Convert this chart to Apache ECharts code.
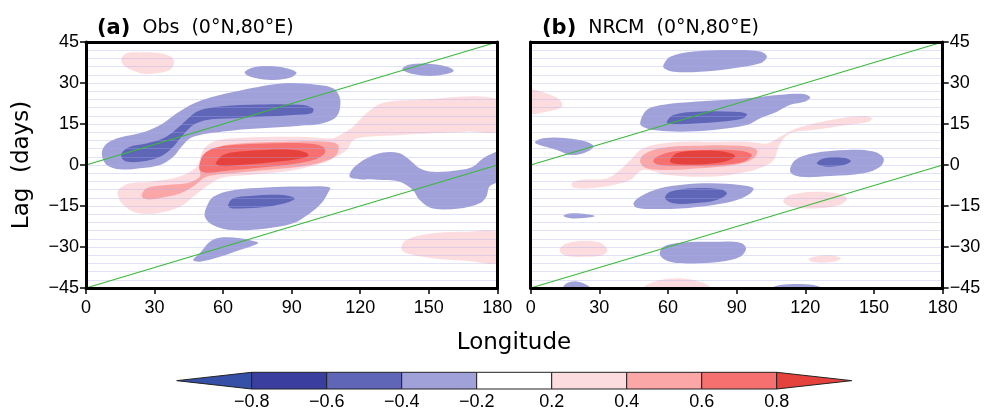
<!DOCTYPE html>
<html><head><meta charset="utf-8">
<script src="https://cdn.jsdelivr.net/npm/echarts@6/dist/echarts.min.js"></script>
<style>html,body{margin:0;padding:0;background:#fff}#c{width:989px;height:411px}</style>
</head><body><div id="c"></div>
<script>
// ---------------- data ----------------
const lonRange = [0, 180];
const lagRange = [-45, 45];
const cbLabels = ['−0.8','−0.6','−0.4','−0.2','0.2','0.4','0.6','0.8'];
const cbColors = ['#3550a6','#3a3f9f','#5f66b8','#a1a1da','#ffffff','#fddcdf','#fba7a7','#f6706f','#e6423d'];
const levelColors = {'-2':'#5f66b8','-1':'#a1a1da','1':'#fddcdf','2':'#fba7a7','3':'#f6706f','4':'#e6423d'};
const phaseLineUpper = [[0,0],[180,45]];
const phaseLineLower = [[0,-45],[180,0]];

// Panel (a) Obs : contour regions [lon, lag]
const obsNeg1Upper = [[6.9,4.3],[9.1,7.9],[14.9,10.1],[25.1,12.0],[33.8,15.3],[39.7,18.9],[45.5,21.9],[52.0,24.1],[64.4,26.7],[86.3,29.9],[100.9,29.4],[108.1,28.1],[111.0,24.9],[111.0,20.1],[108.9,17.1],[102.3,15.0],[93.6,14.4],[78.7,13.5],[64.4,12.6],[46.9,10.3],[41.8,6.7],[38.2,3.0],[32.4,0],[23.6,-1.2],[14.9,-1.6],[9.1,0.0]];
const obsNeg2Upper = [[15.6,4.3],[19.2,6.7],[26.5,7.9],[33.8,9.8],[38.2,12.2],[44.0,16.5],[48.4,19.5],[55.7,21.1],[71.7,22.0],[93.6,22.0],[99.4,20.7],[98.7,18.9],[90.6,18.3],[79.0,17.7],[64.4,17.1],[52.8,16.5],[46.9,14.6],[41.8,10.3],[38.2,6.7],[33.8,3.7],[28.0,1.8],[20.7,1.0],[16.3,1.8]];
const obsNeg1TopMid = [[69.5,34.1],[73.1,35.7],[80.4,36.2],[87.7,35.4],[92.1,33.8],[89.9,32.1],[81.9,31.1],[74.6,31.7],[70.3,32.9]];
const obsNeg1TopRight = [[138.5,35.4],[141.7,36.8],[148.9,37.1],[157.7,36.0],[160.9,34.5],[157.7,33.3],[150.4,32.6],[143.1,33.3],[139.0,34.5]];
const obsPos1Band = [[14.1,-9.2],[19.2,-6.7],[28.0,-6.1],[39.7,-4.5],[48.4,-0.6],[51.3,5.5],[55.7,8.5],[64.4,9.8],[93.6,10.3],[108.1,9.8],[112.5,11.6],[116.9,14.0],[122.7,18.9],[129.8,22.7],[144.7,23.8],[181,23.8],[181,12.8],[166.4,12.2],[151.8,11.6],[137.3,11.0],[122.7,10.3],[116.9,9.1],[114.0,5.5],[108.1,2.4],[100.9,0],[86.3,-2.5],[71.7,-3.7],[58.6,-4.9],[52.8,-7.9],[46.9,-11.6],[41.1,-15.3],[30.9,-17.7],[22.2,-17.5],[16.3,-14.6],[14.1,-11.6]];
const obsPos2 = [[24.4,-11.0],[26.5,-8.5],[35.3,-7.3],[44.0,-6.7],[49.8,-4.3],[49.8,-0.6],[52.8,3.0],[58.6,6.7],[67.3,7.9],[86.3,8.5],[105.2,8.5],[110.3,7.3],[109.6,3.7],[103.7,1.2],[93.6,-0.6],[79.0,-1.8],[64.4,-3.0],[52.8,-4.3],[46.9,-7.9],[41.1,-10.4],[35.3,-11.6],[28.0,-12.6],[25.1,-12.2]];
const obsPos3 = [[49.8,0.6],[51.3,3.7],[55.7,6.1],[64.4,7.3],[79.0,7.9],[96.5,7.9],[103.7,6.7],[104.5,4.3],[99.4,1.8],[87.7,0],[73.1,-1.2],[61.5,-2.1],[52.8,-2.8],[49.8,-1.8]];
const obsPos4 = [[57.1,1.2],[60.0,3.7],[67.3,4.9],[79.0,5.5],[90.6,5.5],[96.5,4.5],[97.2,3.3],[92.1,2.1],[79.0,0.8],[67.3,0],[60.0,-0.4],[56.8,0.4]];
const obsNeg1Lower = [[52.8,-15.3],[55.7,-11.6],[64.4,-9.2],[79.0,-8.2],[93.6,-7.9],[106.7,-8.2],[105.8,-10.3],[103.0,-14.0],[97.9,-17.7],[90.6,-21.3],[79.0,-23.2],[64.4,-23.8],[55.7,-22.0],[52.0,-18.9]];
const obsNeg2Lower = [[62.2,-14.6],[64.4,-12.2],[71.7,-11.3],[86.3,-11.0],[91.4,-12.2],[89.2,-13.4],[79.0,-15.3],[67.3,-15.9],[63.0,-15.6]];
const obsNeg1Right = [[115.4,-4.3],[116.9,-1.2],[122.7,2.4],[130.0,4.6],[137.3,4.3],[141.7,1.8],[146.0,-1.2],[151.8,-2.5],[163.5,-1.8],[169.3,-0.6],[173.7,2.4],[178.1,4.3],[181,4.9],[181,-5.5],[176.6,-7.9],[175.2,-11.6],[172.3,-14.0],[163.5,-15.9],[151.8,-15.9],[146.0,-12.8],[143.1,-9.2],[137.3,-6.1],[130.0,-5.5],[119.8,-5.2]];
const obsNeg1Low = [[46.9,-34.8],[49.8,-32.3],[54.2,-28.1],[58.6,-26.6],[67.3,-26.8],[74.6,-28.1],[75.3,-28.7],[67.3,-31.1],[58.6,-33.6],[49.8,-35.4]];
const obsPos1TopLeft = [[15.6,39.0],[17.8,40.9],[23.6,41.2],[32.4,40.9],[37.5,39.4],[38.5,37.2],[36.7,34.8],[30.9,33.6],[25.0,33.4],[19.9,34.8],[16.3,36.6]];
const obsPos1LowRight = [[138.0,-30.5],[140.2,-27.4],[151.8,-25.0],[166.4,-24.4],[181,-25.0],[181,-35.4],[166.4,-35.0],[151.8,-34.1],[140.2,-32.3]];

// Panel (b) NRCM : contour regions [lon, lag]
const nrcmNeg1Top = [[58.0,36.6],[60.9,39.6],[71.1,41.5],[88.6,42.1],[100.3,41.5],[103.2,39.6],[100.3,37.2],[88.6,35.4],[74.0,34.1],[62.3,34.1],[58.3,35.4]];
const nrcmNeg1Upper = [[47.8,15.3],[50.7,20.1],[58.0,22.0],[72.6,23.2],[94.4,24.4],[109.0,25.7],[119.2,26.0],[122.1,24.8],[119.9,23.2],[113.4,22.0],[107.6,19.5],[100.3,17.1],[94.4,14.6],[79.8,12.8],[65.3,12.2],[53.6,12.8],[49.2,13.9]];
const nrcmNeg2Upper = [[59.5,15.8],[62.3,18.3],[72.6,19.5],[88.6,19.5],[94.4,18.7],[92.9,17.1],[82.8,15.8],[68.2,15.0],[60.9,15.0]];
const nrcmNeg1Left = [[1.9,8.5],[5.5,9.8],[15.7,9.8],[24.5,8.5],[27.4,6.7],[23.0,4.3],[17.2,3.7],[11.4,5.5],[2.6,7.7]];
const nrcmPos1Band = [[17.9,-6.7],[21.6,-5.5],[33.2,-4.9],[39.0,-1.8],[44.9,3.0],[47.8,5.5],[53.6,7.3],[65.3,8.5],[79.8,8.5],[94.4,8.5],[103.2,7.9],[109.0,10.3],[116.3,13.4],[130.9,16.5],[145.4,17.9],[149.1,17.1],[147.6,15.8],[138.2,14.6],[123.6,12.8],[113.4,11.6],[109.0,7.9],[106.1,1.8],[101.7,-0.6],[91.5,-3.0],[76.9,-4.3],[59.5,-3.7],[49.2,-1.8],[43.4,-5.5],[36.1,-7.3],[25.9,-8.5],[18.6,-8.2]];
const nrcmPos2 = [[47.8,1.2],[49.2,3.7],[56.5,6.1],[71.1,7.0],[91.5,7.0],[98.8,5.5],[97.3,2.4],[88.6,0],[74.0,-1.2],[59.5,-1.8],[50.7,-1.2]];
const nrcmPos3 = [[53.6,1.2],[55.1,3.0],[62.3,4.9],[76.9,5.5],[91.5,5.2],[96.6,3.7],[92.9,1.2],[82.8,0],[68.2,-0.4],[56.5,0]];
const nrcmPos4 = [[60.9,1.8],[63.8,4.3],[72.6,5.2],[84.2,4.9],[89.3,3.3],[85.7,1.5],[76.9,0.4],[65.3,0.3],[61.2,0.9]];
const nrcmNeg1Right = [[113.4,-2.5],[115.6,1.8],[123.6,4.3],[138.2,5.5],[149.8,4.9],[154.2,2.4],[152.7,-0.6],[145.4,-3.0],[130.9,-4.0],[117.8,-4.3]];
const nrcmNeg2Right = [[125.0,0.6],[127.9,2.4],[135.2,2.8],[139.9,1.5],[136.7,0],[129.4,-0.6]];
const nrcmNeg1Lower = [[44.9,-14.0],[47.8,-11.6],[56.5,-8.5],[68.2,-7.0],[79.8,-6.7],[91.5,-7.3],[97.3,-8.5],[95.9,-10.4],[90.1,-12.8],[79.8,-14.6],[65.3,-15.9],[53.6,-16.1],[46.3,-15.6]];
const nrcmNeg2Lower = [[58.7,-12.2],[60.9,-9.8],[71.1,-8.5],[82.8,-8.9],[85.7,-10.4],[81.3,-12.8],[71.1,-14.0],[62.3,-14.0]];
const nrcmPos1Right = [[110.4,-12.8],[113.4,-11.0],[123.6,-9.8],[133.8,-10.4],[138.2,-12.2],[135.2,-14.6],[123.6,-15.9],[114.8,-15.5],[111.2,-14.3]];
const nrcmNeg1Tiny = [[14.3,-18.6],[17.2,-17.7],[24.5,-18.0],[28.1,-18.7],[24.5,-19.3],[17.2,-19.5]];
const nrcmPos1Left = [[12.8,-30.5],[15.7,-28.7],[23.0,-27.7],[30.3,-28.4],[33.5,-31.1],[31.7,-32.9],[24.5,-33.6],[15.7,-33.3],[13.1,-32.1]];
const nrcmNeg1Low30 = [[56.5,-32.9],[58.0,-29.9],[65.3,-28.4],[79.8,-28.1],[91.5,-28.4],[94.1,-30.5],[91.5,-33.6],[82.8,-35.4],[71.1,-36.0],[60.9,-35.4]];
const nrcmPos1Low = [[121.4,-34.5],[123.6,-33.6],[130.9,-33.0],[135.5,-34.2],[132.3,-35.4],[123.6,-35.6]];
const nrcmNeg1Bottom1 = [[13.6,-47],[13.8,-45.2],[15.7,-43.3],[19.4,-42.5],[23.0,-43.3],[26.5,-45.2],[26.7,-47]];
const nrcmPos1Bottom = [[48.5,-47],[48.8,-45.2],[53.6,-42.7],[62.3,-41.5],[71.1,-42.1],[78.4,-44.5],[79.8,-47]];
const nrcmNeg1Bottom2 = [[104.6,-47],[105.5,-45],[109.0,-43.9],[116.3,-43.5],[123.6,-43.9],[127.0,-45],[127.9,-47]];
const nrcmPos1TopLeft = [[-2,27.4],[7.0,26.2],[12.8,23.8],[13.6,21.3],[7.0,19.5],[-2,19.1]];

// contour lists: [region, level]
const obsContours = [
  [obsNeg1Upper,-1],[obsNeg2Upper,-2],[obsNeg1TopMid,-1],[obsNeg1TopRight,-1],
  [obsPos1Band,1],[obsPos2,2],[obsPos3,3],[obsPos4,4],
  [obsNeg1Lower,-1],[obsNeg2Lower,-2],[obsNeg1Right,-1],[obsNeg1Low,-1],
  [obsPos1TopLeft,1],[obsPos1LowRight,1]
];
const nrcmContours = [
  [nrcmNeg1Top,-1],[nrcmNeg1Upper,-1],[nrcmNeg2Upper,-2],[nrcmNeg1Left,-1],
  [nrcmPos1Band,1],[nrcmPos2,2],[nrcmPos3,3],[nrcmPos4,4],
  [nrcmNeg1Right,-1],[nrcmNeg2Right,-2],[nrcmNeg1Lower,-1],[nrcmNeg2Lower,-2],
  [nrcmPos1Right,1],[nrcmNeg1Tiny,-1],[nrcmPos1Left,1],[nrcmNeg1Low30,-1],
  [nrcmPos1Low,1],[nrcmNeg1Bottom1,-1],[nrcmPos1Bottom,1],[nrcmNeg1Bottom2,-1],[nrcmPos1TopLeft,1]
];

// ---------------- chart ----------------
const chart = echarts.init(document.getElementById('c'), null, {renderer: 'canvas'});
const TICKFONT = 'Liberation Sans';
const frameLine = {show: true, onZero: false, lineStyle: {color: '#000', width: 3}};

function xAxes(gi) {
  return [
    {gridIndex: gi, type: 'value', min: lonRange[0], max: lonRange[1], interval: 30, position: 'bottom', z: 10,
     axisLine: frameLine, axisTick: {show: true, inside: false, length: 6, lineStyle: {color: '#000', width: 1.5}},
     axisLabel: {fontSize: 18, fontFamily: TICKFONT, color: '#000', margin: 11}, splitLine: {show: false}},
    {gridIndex: gi, type: 'value', min: lonRange[0], max: lonRange[1], interval: 30, position: 'top', z: 10,
     axisLine: frameLine, axisTick: {show: false}, axisLabel: {show: false}, splitLine: {show: false}}
  ];
}
function yAxes(gi, labelSide) {
  const mk = (pos) => {
    const lab = pos === labelSide;
    return {gridIndex: gi, type: 'value', min: lagRange[0], max: lagRange[1], interval: 15, position: pos, z: 10,
      axisLine: frameLine,
      axisTick: {show: lab, inside: false, length: 6, lineStyle: {color: '#000', width: 1.5}},
      axisLabel: {show: lab, fontSize: 18, fontFamily: TICKFONT, color: '#000', margin: 7,
                  formatter: v => (v < 0 ? '−' + Math.abs(v) : String(v))},
      splitLine: {show: false}};
  };
  return [mk('left'), mk('right'),
    {gridIndex: gi, type: 'value', min: lagRange[0], max: lagRange[1], interval: 3, position: 'left', z: 5,
     axisLine: {show: false}, axisTick: {show: false}, axisLabel: {show: false},
     splitLine: {show: true, lineStyle: {color: 'rgba(170,170,235,0.35)', width: 1}}}];
}

function contourSeries(contours, xi, yi) {
  return {
    type: 'custom', xAxisIndex: xi, yAxisIndex: yi, clip: true, z: 2, silent: true,
    data: contours.map((c, i) => [i, 0]),
    renderItem: (params, api) => {
      const c = contours[api.value(0)];
      const pts = c[0].map(p => api.coord(p));
      return {type: 'polygon', shape: {points: pts, smooth: 0.35},
              style: {fill: levelColors[String(c[1])], stroke: null}};
    }
  };
}
function phaseSeries(data, xi, yi) {
  return {type: 'line', xAxisIndex: xi, yAxisIndex: yi, data: data, symbol: 'none', silent: true, z: 6,
          lineStyle: {color: '#3cb83c', width: 1.2}, animation: false};
}

const titleRich = {
  b: {fontFamily: 'DejaVu Sans', fontWeight: 'bold', fontSize: 21, color: '#000'},
  n: {fontFamily: 'DejaVu Sans', fontWeight: 'normal', fontSize: 19, color: '#000'}
};

const option = {
  animation: false,
  backgroundColor: '#fff',
  title: [
    {left: 92, top: 13, text: '{b|(a)}{n|  Obs  (0°N,80°E)}', textStyle: {fontWeight: 'normal', rich: titleRich}},
    {left: 537, top: 13, text: '{b|(b)}{n|  NRCM  (0°N,80°E)}', textStyle: {fontWeight: 'normal', rich: titleRich}}
  ],
  grid: [
    {left: 86, top: 42, width: 411.3, height: 246},
    {left: 530.7, top: 42, width: 412, height: 246},
    {left: 176.7, top: 372.3, width: 675, height: 19.4}
  ],
  xAxis: [
    ...xAxes(0), ...xAxes(1),
    {gridIndex: 2, type: 'value', min: 0, max: cbColors.length, interval: 1, position: 'bottom',
     axisLine: {show: false}, axisTick: {show: false}, splitLine: {show: false},
     axisLabel: {show: true, fontSize: 18, fontFamily: TICKFONT, color: '#000', margin: 4,
                 formatter: v => (v >= 1 && v <= cbLabels.length ? cbLabels[v - 1] : '')}}
  ],
  yAxis: [
    ...yAxes(0, 'left'), ...yAxes(1, 'right'),
    {gridIndex: 2, type: 'value', min: 0, max: 1, show: false}
  ],
  graphic: [
    {type: 'text', x: 22, y: 165, rotation: Math.PI / 2,
     style: {text: 'Lag  (days)', fontFamily: 'DejaVu Sans', fontSize: 23, fill: '#000', align: 'center', verticalAlign: 'middle'}},
    {type: 'text', x: 514, y: 343,
     style: {text: 'Longitude', fontFamily: 'DejaVu Sans', fontSize: 23, fill: '#000', align: 'center', verticalAlign: 'middle'}}
  ],
  series: [
    contourSeries(obsContours, 0, 0),
    phaseSeries(phaseLineUpper, 0, 0), phaseSeries(phaseLineLower, 0, 0),
    contourSeries(nrcmContours, 2, 3),
    phaseSeries(phaseLineUpper, 2, 3), phaseSeries(phaseLineLower, 2, 3),
    {
      type: 'custom', xAxisIndex: 4, yAxisIndex: 6, silent: true, clip: false,
      data: cbColors.map((c, i) => [i, 0]),
      renderItem: (params, api) => {
        const i = api.value(0);
        const a = api.coord([i, 0]), b = api.coord([i + 1, 1]);
        const mid = (a[1] + b[1]) / 2;
        let pts;
        if (i === 0) pts = [[a[0], mid], [b[0], b[1]], [b[0], a[1]]];
        else if (i === cbColors.length - 1) pts = [[a[0], b[1]], [b[0], mid], [a[0], a[1]]];
        else pts = [[a[0], a[1]], [a[0], b[1]], [b[0], b[1]], [b[0], a[1]]];
        return {type: 'polygon', shape: {points: pts}, style: {fill: cbColors[i], stroke: '#222', lineWidth: 1}};
      }
    }
  ]
};
chart.setOption(option);
</script>
</body></html>
